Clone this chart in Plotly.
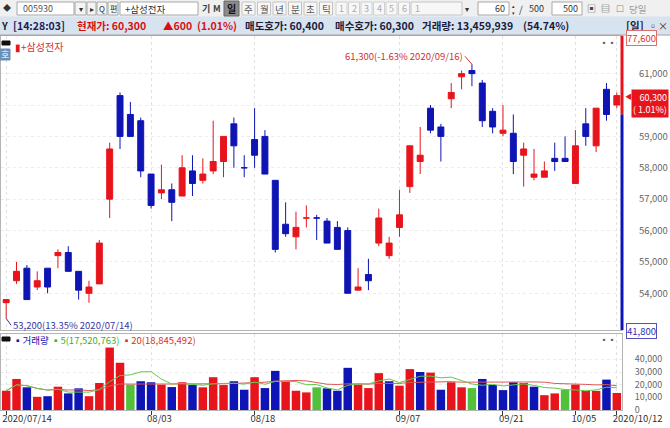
import pandas as pd
import plotly.graph_objects as go
from plotly.subplots import make_subplots

# 삼성전자(005930) 일봉 2020/07/14 ~ 2020/10/12 (60 거래일)
dates = [
    '2020-07-14', '2020-07-15', '2020-07-16', '2020-07-17', '2020-07-20', '2020-07-21', '2020-07-22',
    '2020-07-23', '2020-07-24', '2020-07-27', '2020-07-28', '2020-07-29', '2020-07-30', '2020-07-31',
    '2020-08-03', '2020-08-04', '2020-08-05', '2020-08-06', '2020-08-07', '2020-08-10', '2020-08-11',
    '2020-08-12', '2020-08-13', '2020-08-14', '2020-08-18', '2020-08-19', '2020-08-20', '2020-08-21',
    '2020-08-24', '2020-08-25', '2020-08-26', '2020-08-27', '2020-08-28', '2020-08-31', '2020-09-01',
    '2020-09-02', '2020-09-03', '2020-09-04', '2020-09-07', '2020-09-08', '2020-09-09', '2020-09-10',
    '2020-09-11', '2020-09-14', '2020-09-15', '2020-09-16', '2020-09-17', '2020-09-18', '2020-09-21',
    '2020-09-22', '2020-09-23', '2020-09-24', '2020-09-25', '2020-09-28', '2020-09-29', '2020-10-05',
    '2020-10-06', '2020-10-07', '2020-10-08', '2020-10-12',
]
opens = [53700, 54400, 54800, 54200, 54800, 55200, 55300, 54700, 54000, 54300,
         57000, 60300, 59700, 59500, 57800, 57200, 57300, 57100, 57900, 57600,
         57900, 58200, 59400, 58000, 58900, 59000, 57600, 56200, 55800, 56400,
         56400, 56300, 56100, 56000, 54100, 54600, 55600, 55200, 56100, 57400,
         58200, 59900, 59300, 60200, 60900, 61100, 60700, 59800, 59100, 59100,
         58400, 57700, 57700, 58300, 58300, 57500, 59400, 58700, 60500, 60000]
highs = [53800, 55000, 54900, 54700, 54800, 55400, 55500, 54700, 54400, 55700,
         58800, 60400, 60100, 59600, 57800, 58100, 57500, 58400, 58400, 58300,
         59500, 59000, 59600, 58400, 59900, 59200, 57600, 56900, 56600, 56800,
         56500, 56400, 56300, 56100, 54800, 55100, 56700, 55800, 57300, 58700,
         59300, 60000, 59400, 60700, 61100, 61300, 60800, 59900, 60000, 59700,
         58800, 58600, 58200, 58800, 59000, 59200, 59900, 59900, 60700, 60400]
lows = [53200, 54300, 53800, 54100, 54000, 54800, 54700, 53800, 53700, 54300,
        56400, 58600, 59000, 57700, 56700, 57000, 56300, 57100, 57100, 57500,
        57800, 57700, 58000, 57700, 58000, 57800, 55300, 55800, 55400, 56100,
        55700, 55600, 55400, 54000, 54100, 54100, 55500, 55100, 55800, 57200,
        57800, 59100, 58200, 59900, 60500, 60600, 59300, 59100, 59000, 57800,
        57400, 57600, 57700, 57900, 58200, 57500, 58700, 58500, 59500, 59900]
closes = [53800, 54700, 53800, 54400, 54200, 55300, 54700, 54100, 54200, 55600,
          58600, 59000, 59000, 57900, 56800, 57300, 56900, 58000, 57500, 57800,
          58200, 59000, 58700, 58000, 58400, 57800, 55400, 55900, 56100, 56400,
          56400, 55600, 55400, 54000, 54200, 54400, 56400, 55600, 56500, 58700,
          58400, 59200, 59000, 60400, 61000, 61000, 59500, 59300, 59200, 58200,
          58600, 57800, 57900, 58200, 58200, 58700, 59000, 59900, 59700, 60300]
# 거래량 (천주)
volumes = [15200, 24500, 17900, 10400, 10900, 18400, 13100, 17100, 10900, 21300,
           49300, 37300, 20000, 22700, 21900, 20000, 18100, 21900, 19700, 17900,
           25900, 19700, 22700, 16000, 25900, 17300, 30900, 22700, 15200, 13900,
           17900, 17100, 15200, 33300, 20000, 17300, 29100, 22700, 19200, 32300,
           30000, 29500, 16000, 21900, 17900, 17300, 24500, 19700, 15700, 21900,
           21300, 18400, 11700, 13100, 16000, 20000, 15000, 15100, 24000, 13460]

tick_dates = ['2020-07-14', '2020-08-03', '2020-08-18', '2020-09-07', '2020-09-21', '2020-10-05', '2020-10-12']
tick_labels = ['2020/07/14', '08/03', '08/18', '09/07', '09/21', '10/05', '2020/10/12']
price_ticks = [54000, 55000, 56000, 57000, 58000, 59000, 60000, 61000]
volume_ticks = [0, 10000, 20000, 30000, 40000]
upper_limit = 77600
lower_limit = 41800

RED = '#e8141c'
BLUE = '#0f14b4'
GREEN = '#52c03a'
FONT = 'Noto Sans CJK KR'
price_range = [52830, 62200]

df = pd.DataFrame({'date': dates, 'open': opens, 'high': highs, 'low': lows,
                   'close': closes, 'volume': volumes})
prev = df['close'].shift(1).fillna(df['open'])
# 봉 색: 종가>시가 빨강, 종가<시가 파랑, 같으면 전일 종가 비교
up = (df.close > df.open) | ((df.close == df.open) & (df.close > prev))
# 거래량 색: 전일 종가 대비 (보합 초록)
vol_colors = [GREEN if c == p else (RED if c > p else BLUE) for c, p in zip(df.close, prev)]
ma5 = df.volume.rolling(5, min_periods=1).mean()
ma20 = df.volume.rolling(20, min_periods=1).mean()

fig = make_subplots(rows=2, cols=1, shared_xaxes=True)

for mask, color in [(up, RED), (~up, BLUE)]:
    d = df[mask]
    fig.add_trace(go.Candlestick(
        x=d.date, open=d.open, high=d.high, low=d.low, close=d.close,
        increasing=dict(line=dict(color=color, width=1), fillcolor=color),
        decreasing=dict(line=dict(color=color, width=1), fillcolor=color),
        whiskerwidth=0, showlegend=False, hoverinfo='skip'), row=1, col=1)

fig.add_trace(go.Bar(x=df.date, y=df.volume, marker_color=vol_colors, marker_line_width=0,
                     showlegend=False), row=2, col=1)
fig.add_trace(go.Scatter(x=df.date, y=ma20, mode='lines', line=dict(color='#e25555', width=1),
                         showlegend=False), row=2, col=1)
fig.add_trace(go.Scatter(x=df.date, y=ma5, mode='lines', line=dict(color='#5ccc4c', width=1),
                         showlegend=False), row=2, col=1)

fig.update_layout(
    width=670, height=428,
    margin=dict(l=1, r=48, t=36, b=18),
    paper_bgcolor='white', plot_bgcolor='white',
    boxgap=0.18, bargap=0.18,
    font=dict(family=FONT, size=10, color='#555'),
)
fig.update_xaxes(type='category', categoryorder='array', categoryarray=dates,
                 range=[-0.5, len(dates) - 0.5], rangeslider_visible=False, automargin=False,
                 tickvals=tick_dates, ticktext=tick_labels, tickangle=0,
                 showgrid=True, gridcolor='#e2e2e2', griddash='dot',
                 showline=True, linecolor='#b4b4b4', mirror=True)
fig.update_xaxes(showticklabels=False, ticks='', row=1, col=1)
fig.update_xaxes(ticks='outside', ticklen=4, tickcolor='#333', ticklabelposition='outside right',
                 ticklabelshift=-5, tickfont=dict(size=9.5, color='#333'), row=2, col=1)
fig.update_yaxes(side='right', showgrid=True, gridcolor='#ececec', griddash='dot', automargin=False,
                 ticks='', ticklabelstandoff=14, showline=True, linecolor='#b4b4b4', mirror=True,
                 tickfont=dict(size=9.5, color='#666'))
fig.update_yaxes(domain=[0.2139, 1], range=price_range, tickvals=price_ticks, tickformat=',',
                 row=1, col=1)
fig.update_yaxes(domain=[0, 0.2032], range=[0, 60000], tickvals=volume_ticks, tickformat=',',
                 ticksuffix='K', ticklabelstandoff=10, tickfont=dict(size=9, color='#666'),
                 row=2, col=1)


# 화면 장식용 픽셀 -> paper 좌표
def fx(px):
    return (px - 1) / 621


def fy(py):
    return (410 - py) / 374


def text(px, py, s, color='#333', size=10, bold=False, **kw):
    if bold:
        s = '<b>' + s + '</b>'
    fig.add_annotation(xref='paper', yref='paper', x=fx(px), y=fy(py), text=s, showarrow=False,
                       xanchor=kw.pop('xanchor', 'left'), yanchor='middle',
                       font=dict(family=FONT, size=size, color=color), **kw)


def box(x0, x1, y0, y1, fill='white', line='#a8a8a8'):
    fig.add_shape(type='rect', xref='paper', yref='paper', x0=fx(x0), x1=fx(x1), y0=fy(y1), y1=fy(y0),
                  fillcolor=fill, line=dict(color=line, width=1), layer='above')


# 상단 툴바
box(-2, 672, -1, 17, fill='#f0f0f0', line='#f0f0f0')
box(-2, 672, 17, 34, fill='#d8e3f0', line='#d8e3f0')
fig.add_shape(type='line', xref='paper', yref='paper', x0=fx(0), x1=fx(670), y0=fy(35), y1=fy(35),
              line=dict(color='#9a9a9a', width=1))
text(1, 8, '◆', '#333', 8)
box(17, 74, 2, 15)
text(21, 8.5, '005930', '#555', 9)
for x0, x1, s in [(75, 86, '▾'), (87, 96, '▸'), (97, 107, 'Q'), (108, 118, '편')]:
    box(x0, x1, 2, 15, fill='#f4f4f4')
    text((x0 + x1) / 2, 8.5, s, '#333', 8, xanchor='center')
box(120, 198, 2, 15)
text(123, 8.5, '+삼성전자', '#333', 9.5)
for x0, x1, s in [(200, 211, '기'), (211, 222, 'M')]:
    text((x0 + x1) / 2, 8.5, s, '#444', 9, True, xanchor='center')
box(224, 239, 1, 16, fill='#8c8c8c', line='#666')
text(231.5, 8.5, '일', '#111', 10, True, xanchor='center')
for i, s in enumerate(['주', '월', '년', '분', '초', '틱']):
    x0 = 242 + i * 15.5
    box(x0, x0 + 13, 2, 15, fill='#f7f7f7', line='#c4c4c4')
    text(x0 + 6.5, 8.5, s, '#555', 9.5, xanchor='center')
for i, s in enumerate(['1', '2', '3', '4', '5', '6']):
    x0 = 336 + i * 12.5
    box(x0, x0 + 11, 2, 15, fill='#f7f7f7', line='#d0d0d0')
    text(x0 + 5.5, 8.5, s, '#aaa', 9, xanchor='center')
box(411, 462, 2, 15, fill='#f7f7f7', line='#c4c4c4')
text(413, 8.5, '1', '#aaa', 9)
text(467, 8.5, '▾', '#333', 8, xanchor='center')
box(478, 509, 2, 15)
text(507, 8.5, '60', '#333', 9, xanchor='right')
text(513, 8.5, '▴<br>▾', '#333', 5, xanchor='center')
text(517, 8.5, '/', '#333', 9.5)
text(527, 8.5, '500', '#333', 9)
box(552, 582, 2, 15)
text(580, 8.5, '500', '#333', 9, xanchor='right')
text(585, 8.5, '▣', '#444', 9)
text(599, 8.5, '▤', '#444', 9)
text(614, 8.5, '☐', '#888', 9)
text(627, 8.5, '당일', '#999', 9.5)

# 시세 줄
cur = closes[-1]
chg = closes[-1] - closes[-2]
pct = chg / closes[-2] * 100
text(-1, 25.5, 'Y', '#222', 10, True)
text(11, 25.5, '[14:28:03]', '#1c1c5c', 10.5, True)
text(75, 25.5, f'현재가: {cur:,}', '#d81010', 10.5, True)
text(161, 25.5, f'▲{chg:,}', '#d81010', 10.5, True)
text(195, 25.5, f'({pct:.2f}%)', '#d81010', 10.5, True)
text(243, 25.5, '매도호가: 60,400', '#1c1c3c', 10.5, True)
text(333, 25.5, '매수호가: 60,300', '#1c1c3c', 10.5, True)
text(420, 25.5, '거래량: 13,459,939', '#1c1c3c', 10.5, True)
text(521, 25.5, '(54.74%)', '#1c1c3c', 10.5, True)
text(624, 25.5, '[일]', '#1c1c3c', 10.5, True)
text(646, 25.5, '▫', '#333', 10)
text(656, 25.5, '×', '#333', 10)

# 가격 영역 장식
box(2, 10, 41, 45, fill='#111', line='#111')
text(13, 46, '<span style="color:#e8141c">▮</span>+삼성전자', '#d83030', 10)
box(-1, 10, 49, 60, fill='#6d8fb6', line='#6d8fb6')
text(4.5, 54.5, '호', 'white', 9, xanchor='center')
text(598, 43, '▪▪', '#666', 8)
text(598, 339, '▪▪', '#666', 8)

# 기준가 대비 상/하 세로 막대
base = closes[-2]
fig.add_shape(type='line', xref='paper', yref='y', x0=1, x1=1, y0=base, y1=price_range[1],
              line=dict(color=RED, width=3))
fig.add_shape(type='line', xref='paper', yref='y', x0=1, x1=1, y0=price_range[0], y1=base,
              line=dict(color=BLUE, width=3))

# 상한가 / 하한가
fig.add_annotation(xref='paper', yref='paper', x=fx(626), y=fy(37.5), text=f'{upper_limit:,}',
                   showarrow=False, xanchor='left', yanchor='middle', bgcolor='white',
                   bordercolor='#e07070', borderwidth=1, borderpad=0,
                   font=dict(family=FONT, size=9.5, color='#e03030'))
fig.add_annotation(xref='paper', yref='paper', x=fx(626), y=fy(331), text=f'{lower_limit:,}',
                   showarrow=False, xanchor='left', yanchor='middle', bgcolor='white',
                   bordercolor='#5050c0', borderwidth=1, borderpad=0,
                   font=dict(family=FONT, size=9.5, color='#3030b0'))

# 현재가 표시
fig.add_annotation(xref='paper', yref='y', x=1, y=cur, text='◀', showarrow=False,
                   xanchor='left', yanchor='middle', xshift=1,
                   font=dict(family=FONT, size=7, color=RED))
fig.add_annotation(xref='paper', yref='y', x=fx(631), y=cur, text=f'{cur:,}<br>( {pct:.2f}%)',
                   showarrow=False, xanchor='left', yanchor='top', yshift=7, align='right',
                   bgcolor=RED, borderpad=1,
                   font=dict(family=FONT, size=9, color='white'))

# 최고 / 최저
hi = df.high.idxmax()
lo = df.low.idxmin()
hi_txt = f'{highs[hi]:,}({(cur / highs[hi] - 1) * 100:.2f}% {dates[hi].replace("-", "/")})'
lo_txt = f'{lows[lo]:,}({(cur / lows[lo] - 1) * 100:.2f}% {dates[lo].replace("-", "/")})'
fig.add_annotation(x=dates[hi], y=highs[hi], xref='x', yref='y', text=hi_txt,
                   showarrow=True, arrowhead=0, arrowwidth=1, arrowcolor='#d03030',
                   ax=-7, ay=-8, xanchor='right', yanchor='middle',
                   font=dict(family=FONT, size=9.5, color='#d03030'))
fig.add_annotation(x=dates[lo], y=lows[lo], xref='x', yref='y', text=lo_txt,
                   showarrow=True, arrowhead=0, arrowwidth=1, arrowcolor='#3434a0',
                   ax=5, ay=7, xanchor='left', yanchor='middle',
                   font=dict(family=FONT, size=9.5, color='#3434a0'))

# 거래량 범례
box(2, 10, 337, 341, fill='#111', line='#111')
text(11, 340, '<span style="color:#0f14b4">▪거래량</span> '
              '<span style="color:#3cb030">▪5(17,520,763)</span> '
              '<span style="color:#d83030">▪20(18,845,492)</span>', '#333', 9.5)

# 페이지 기본 여백 제거, 모드바 숨김
fig.write_html("out.html", config={'displayModeBar': False},
               post_script="document.body.style.margin='0px';")
